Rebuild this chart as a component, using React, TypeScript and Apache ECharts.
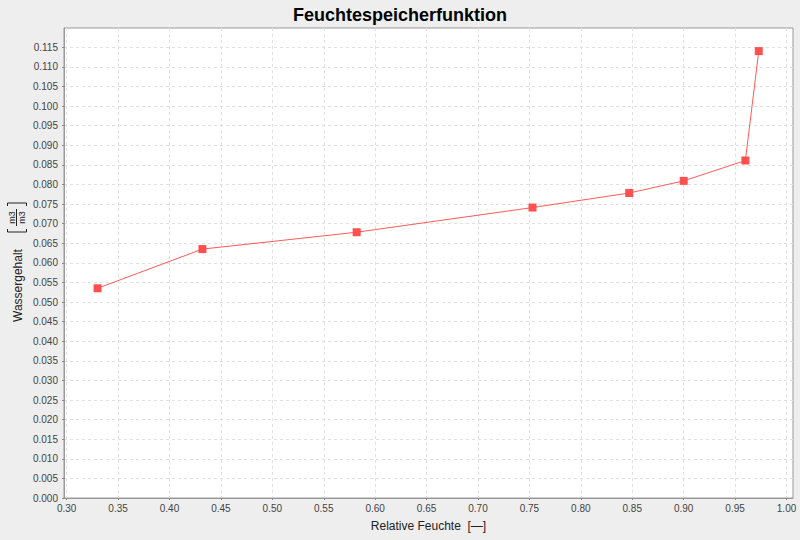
import React, { useEffect, useRef } from "react";
import * as echarts from "echarts";

const relHumidity = [0.33, 0.432, 0.582, 0.753, 0.847, 0.9, 0.96, 0.973];
const waterContent = [0.0535, 0.0635, 0.0678, 0.0741, 0.0778, 0.0809, 0.0861, 0.114];

const xTicks = [0.3, 0.35, 0.4, 0.45, 0.5, 0.55, 0.6, 0.65, 0.7, 0.75, 0.8, 0.85, 0.9, 0.95, 1.0];
const yTicks = [
  0.0, 0.005, 0.01, 0.015, 0.02, 0.025, 0.03, 0.035, 0.04, 0.045, 0.05, 0.055, 0.06,
  0.065, 0.07, 0.075, 0.08, 0.085, 0.09, 0.095, 0.1, 0.105, 0.11, 0.115,
];

const titleText = "Feuchtespeicherfunktion";
const xName = "Relative Feuchte  [\u2014]";
const yName = "Wassergehalt";
const yUnit = "m3";

const FONT = "'Liberation Sans', Arial, sans-serif";

export default function App() {
  const ref = useRef<HTMLDivElement>(null);
  useEffect(() => {
    if (!ref.current) return;
    const chart = echarts.init(ref.current, null, { renderer: "svg" });
    const data = relHumidity.map((x, i) => [x, waterContent[i]]);
    const lineCol = "#999999";
    chart.setOption({
      animation: false,
      backgroundColor: "#eeeeee",
      title: {
        text: titleText,
        left: "center",
        top: 1,
        textStyle: { fontFamily: FONT, fontSize: 18, fontWeight: "bold", color: "#000" },
      },
      grid: {
        left: 64,
        top: 28,
        right: 7,
        bottom: 42,
        show: true,
        backgroundColor: "#ffffff",
        borderColor: lineCol,
        borderWidth: 1,
      },
      xAxis: {
        type: "value",
        min: 0.2974,
        max: 1.0063,
        name: xName,
        nameLocation: "middle",
        nameGap: 22,
        nameTextStyle: { fontFamily: FONT, fontSize: 12, color: "#222" },
        axisLine: { show: true, lineStyle: { color: lineCol, width: 1 } },
        axisTick: { show: true, length: 2, lineStyle: { color: "#888" }, customValues: xTicks },
        axisLabel: {
          customValues: xTicks,
          margin: 5,
          fontFamily: FONT,
          fontSize: 10,
          color: "#444",
          formatter: (v: number) => v.toFixed(2),
          showMinLabel: true,
          showMaxLabel: true,
        },
        splitLine: { show: true, lineStyle: { color: "#e0e0e0", type: [3, 3], width: 1 } },
      },
      yAxis: {
        type: "value",
        min: 0,
        max: 0.1199,
        axisLine: { show: true, lineStyle: { color: lineCol, width: 1 } },
        axisTick: { show: true, length: 2, lineStyle: { color: "#888" }, customValues: yTicks },
        axisLabel: {
          customValues: yTicks,
          margin: 6,
          fontFamily: FONT,
          fontSize: 10,
          color: "#444",
          formatter: (v: number) => v.toFixed(3),
          showMinLabel: true,
          showMaxLabel: true,
        },
        splitLine: { show: true, lineStyle: { color: "#e0e0e0", type: [3, 3], width: 1 } },
      },
      graphic: [
        {
          type: "group",
          x: 0,
          y: 263,
          rotation: Math.PI / 2,
          silent: true,
          children: [
            {
              type: "text",
              x: -59,
              y: 18,
              style: {
                text: yName,
                font: "12px " + FONT,
                fill: "#222",
                textAlign: "left",
                textVerticalAlign: "middle",
                align: "left",
                verticalAlign: "middle",
              },
            },
            {
              type: "polyline",
              shape: { points: [[34, 7.5], [31, 7.5], [31, 26.5], [34, 26.5]] },
              style: { stroke: "#222", lineWidth: 1, fill: null },
            },
            {
              type: "polyline",
              shape: { points: [[57, 7.5], [60, 7.5], [60, 26.5], [57, 26.5]] },
              style: { stroke: "#222", lineWidth: 1, fill: null },
            },
            {
              type: "line",
              shape: { x1: 37, y1: 16.5, x2: 54, y2: 16.5 },
              style: { stroke: "#222", lineWidth: 1 },
            },
            {
              type: "text",
              x: 45.5,
              y: 12,
              style: {
                text: yUnit,
                font: "9px " + FONT,
                fill: "#222",
                textAlign: "center",
                textVerticalAlign: "middle",
                align: "center",
                verticalAlign: "middle",
              },
            },
            {
              type: "text",
              x: 45.5,
              y: 21.5,
              style: {
                text: yUnit,
                font: "9px " + FONT,
                fill: "#222",
                textAlign: "center",
                textVerticalAlign: "middle",
                align: "center",
                verticalAlign: "middle",
              },
            },
          ],
        },
      ],
      series: [
        {
          type: "line",
          data,
          symbol: "rect",
          symbolSize: 8,
          lineStyle: { color: "#ff5a5a", width: 1 },
          itemStyle: { color: "#ff5050" },
        },
      ],
    });
    return () => chart.dispose();
  }, []);
  return (
    <div
      ref={ref}
      style={{ position: "fixed", left: 0, top: 0, width: 800, height: 540 }}
    />
  );
}
